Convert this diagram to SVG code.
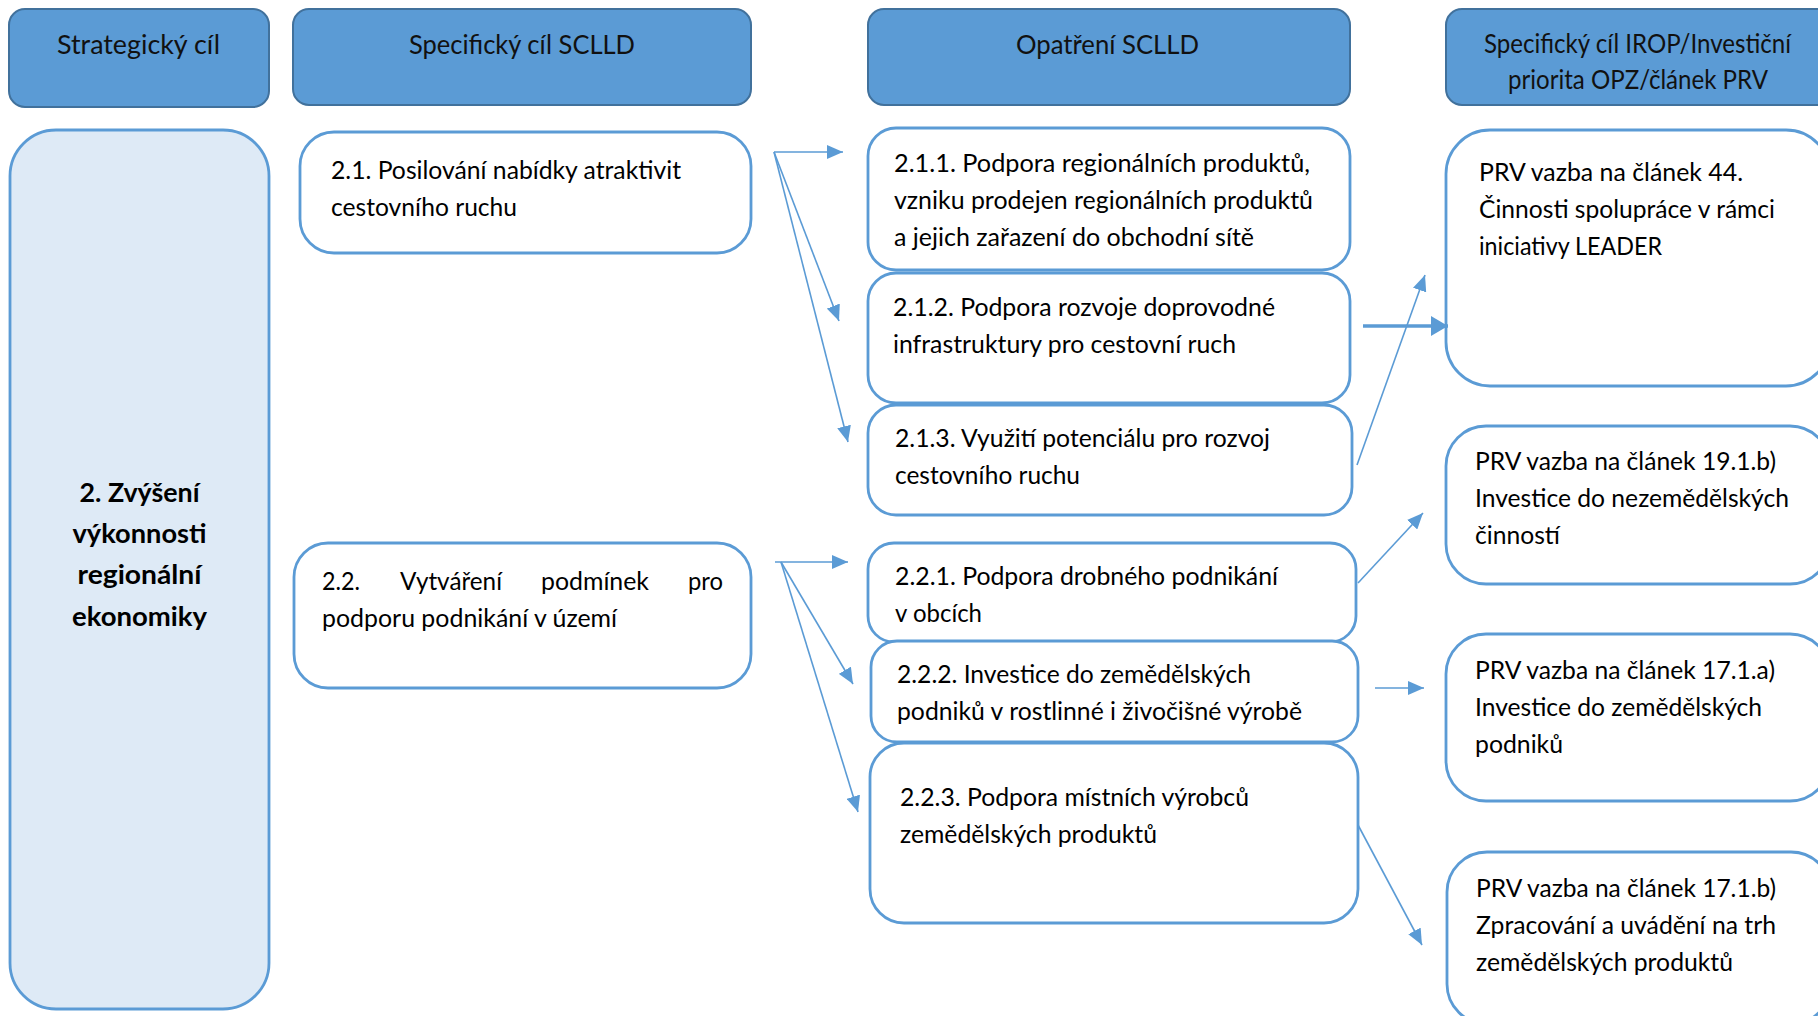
<svg xmlns="http://www.w3.org/2000/svg" width="1818" height="1016" viewBox="0 0 1818 1016">
<defs>
<style>
.hdr{fill:#5B9BD5;stroke:#41719C;stroke-width:2}
.box{fill:#FFFFFF;stroke:#5B9BD5;stroke-width:2.8}
.sbox{fill:#DEEAF6;stroke:#5B9BD5;stroke-width:2.8}
.ht{font-family:Lato,"Open Sans","Liberation Sans",sans-serif;font-size:26.5px;fill:#111}
.t{font-family:Lato,"Open Sans","Liberation Sans",sans-serif;font-size:24.5px;fill:#000}
.b{font-family:Lato,"Open Sans","Liberation Sans",sans-serif;font-size:26.5px;font-weight:bold;fill:#000}
.ln{fill:none;stroke:#5B9BD5;stroke-width:1.6}
.thick{fill:none;stroke:#5B9BD5;stroke-width:3.6}
</style>
<marker id="ah" markerUnits="userSpaceOnUse" markerWidth="16" markerHeight="14" refX="16" refY="7" orient="auto">
<path d="M0,0 L16,7 L0,14 z" fill="#5B9BD5"/>
</marker>
<marker id="ahT" markerUnits="userSpaceOnUse" markerWidth="17" markerHeight="20" refX="17" refY="10" orient="auto">
<path d="M0,0 L17,10 L0,20 z" fill="#5B9BD5"/>
</marker>
</defs>

<g id="hdr-strategicky">
<rect class="hdr" x="9" y="9" width="260" height="98" rx="16"/>
<text class="ht" x="57" y="54" textLength="163" lengthAdjust="spacingAndGlyphs">Strategický cíl</text>
</g>
<g id="hdr-specificky">
<rect class="hdr" x="293" y="9" width="458" height="96" rx="16"/>
<text class="ht" x="409" y="54" textLength="226" lengthAdjust="spacingAndGlyphs">Specifický cíl SCLLD</text>
</g>
<g id="hdr-opatreni">
<rect class="hdr" x="868" y="9" width="482" height="96" rx="16"/>
<text class="ht" x="1016" y="54" textLength="183" lengthAdjust="spacingAndGlyphs">Opatření SCLLD</text>
</g>
<g id="hdr-irop">
<rect class="hdr" x="1446" y="9" width="386" height="96" rx="16"/>
<text class="ht" x="1484" y="53" textLength="307" lengthAdjust="spacingAndGlyphs">Specifický cíl IROP/Investiční</text>
<text class="ht" x="1508" y="89" textLength="260" lengthAdjust="spacingAndGlyphs">priorita OPZ/článek PRV</text>
</g>

<g id="node-2">
<rect class="sbox" x="10" y="130" width="259" height="879" rx="46"/>
<text class="b" x="139.5" y="502" text-anchor="middle" textLength="120" lengthAdjust="spacingAndGlyphs">2. Zvýšení</text>
<text class="b" x="139.5" y="543" text-anchor="middle" textLength="134" lengthAdjust="spacingAndGlyphs">výkonnosti</text>
<text class="b" x="139.5" y="584" text-anchor="middle" textLength="124" lengthAdjust="spacingAndGlyphs">regionální</text>
<text class="b" x="139.5" y="626" text-anchor="middle" textLength="135" lengthAdjust="spacingAndGlyphs">ekonomiky</text>
</g>

<g id="node-2-1">
<rect class="box" x="300" y="132" width="451" height="121" rx="34"/>
<text class="t" x="331" y="179" textLength="350" lengthAdjust="spacingAndGlyphs">2.1. Posilování nabídky atraktivit</text>
<text class="t" x="331" y="216" textLength="186" lengthAdjust="spacingAndGlyphs">cestovního ruchu</text>
</g>
<g id="node-2-2">
<rect class="box" x="294" y="543" width="457" height="145" rx="34"/>
<text class="t" x="322" y="590" textLength="38" lengthAdjust="spacingAndGlyphs">2.2.</text>
<text class="t" x="400" y="590" textLength="102" lengthAdjust="spacingAndGlyphs">Vytváření</text>
<text class="t" x="541" y="590" textLength="108" lengthAdjust="spacingAndGlyphs">podmínek</text>
<text class="t" x="688" y="590" textLength="35" lengthAdjust="spacingAndGlyphs">pro</text>
<text class="t" x="322" y="627" textLength="295" lengthAdjust="spacingAndGlyphs">podporu podnikání v území</text>
</g>

<g id="node-2-1-1">
<rect class="box" x="868" y="128" width="482" height="142" rx="28"/>
<text class="t" x="894" y="172" textLength="416" lengthAdjust="spacingAndGlyphs">2.1.1. Podpora regionálních produktů,</text>
<text class="t" x="894" y="209" textLength="419" lengthAdjust="spacingAndGlyphs">vzniku prodejen regionálních produktů</text>
<text class="t" x="894" y="246" textLength="360" lengthAdjust="spacingAndGlyphs">a jejich zařazení do obchodní sítě</text>
</g>
<g id="node-2-1-2">
<rect class="box" x="868" y="273" width="482" height="130" rx="28"/>
<text class="t" x="893" y="316" textLength="382" lengthAdjust="spacingAndGlyphs">2.1.2. Podpora rozvoje doprovodné</text>
<text class="t" x="893" y="353" textLength="343" lengthAdjust="spacingAndGlyphs">infrastruktury pro cestovní ruch</text>
</g>
<g id="node-2-1-3">
<rect class="box" x="868" y="405" width="484" height="110" rx="28"/>
<text class="t" x="895" y="447" textLength="375" lengthAdjust="spacingAndGlyphs">2.1.3. Využití potenciálu pro rozvoj</text>
<text class="t" x="895" y="484" textLength="185" lengthAdjust="spacingAndGlyphs">cestovního ruchu</text>
</g>
<g id="node-2-2-1">
<rect class="box" x="868" y="543" width="488" height="99" rx="26"/>
<text class="t" x="895" y="585" textLength="383" lengthAdjust="spacingAndGlyphs">2.2.1. Podpora drobného podnikání</text>
<text class="t" x="895" y="622" textLength="87" lengthAdjust="spacingAndGlyphs">v obcích</text>
</g>
<g id="node-2-2-2">
<rect class="box" x="871" y="641" width="487" height="101" rx="26"/>
<text class="t" x="897" y="683" textLength="354" lengthAdjust="spacingAndGlyphs">2.2.2. Investice do zemědělských</text>
<text class="t" x="897" y="720" textLength="405" lengthAdjust="spacingAndGlyphs">podniků v rostlinné i živočišné výrobě</text>
</g>
<g id="node-2-2-3">
<rect class="box" x="870" y="743" width="488" height="180" rx="34"/>
<text class="t" x="900" y="806" textLength="349" lengthAdjust="spacingAndGlyphs">2.2.3. Podpora místních výrobců</text>
<text class="t" x="900" y="843" textLength="257" lengthAdjust="spacingAndGlyphs">zemědělských produktů</text>
</g>

<g id="node-prv44">
<rect class="box" x="1446" y="130" width="384" height="256" rx="44"/>
<text class="t" x="1479" y="181" textLength="264" lengthAdjust="spacingAndGlyphs">PRV vazba na článek 44.</text>
<text class="t" x="1479" y="218" textLength="296" lengthAdjust="spacingAndGlyphs">Činnosti spolupráce v rámci</text>
<text class="t" x="1479" y="255" textLength="183" lengthAdjust="spacingAndGlyphs">iniciativy LEADER</text>
</g>
<g id="node-prv19">
<rect class="box" x="1446" y="426" width="384" height="158" rx="40"/>
<text class="t" x="1475" y="470" textLength="301" lengthAdjust="spacingAndGlyphs">PRV vazba na článek 19.1.b)</text>
<text class="t" x="1475" y="507" textLength="314" lengthAdjust="spacingAndGlyphs">Investice do nezemědělských</text>
<text class="t" x="1475" y="544" textLength="85" lengthAdjust="spacingAndGlyphs">činností</text>
</g>
<g id="node-prv17a">
<rect class="box" x="1446" y="634" width="384" height="167" rx="40"/>
<text class="t" x="1475" y="679" textLength="300" lengthAdjust="spacingAndGlyphs">PRV vazba na článek 17.1.a)</text>
<text class="t" x="1475" y="716" textLength="287" lengthAdjust="spacingAndGlyphs">Investice do zemědělských</text>
<text class="t" x="1475" y="753" textLength="88" lengthAdjust="spacingAndGlyphs">podniků</text>
</g>
<g id="node-prv17b">
<rect class="box" x="1447" y="852" width="384" height="172" rx="40"/>
<text class="t" x="1476" y="897" textLength="300" lengthAdjust="spacingAndGlyphs">PRV vazba na článek 17.1.b)</text>
<text class="t" x="1476" y="934" textLength="300" lengthAdjust="spacingAndGlyphs">Zpracování a uvádění na trh</text>
<text class="t" x="1476" y="971" textLength="257" lengthAdjust="spacingAndGlyphs">zemědělských produktů</text>
</g>

<g id="connectors">
<line class="ln" x1="774" y1="152" x2="843" y2="152" marker-end="url(#ah)"/>
<line class="ln" x1="774" y1="152" x2="839" y2="321" marker-end="url(#ah)"/>
<line class="ln" x1="774" y1="152" x2="848" y2="442" marker-end="url(#ah)"/>
<line class="ln" x1="775" y1="562" x2="848" y2="562" marker-end="url(#ah)"/>
<line class="ln" x1="781" y1="562" x2="853" y2="684" marker-end="url(#ah)"/>
<line class="ln" x1="781" y1="562" x2="858" y2="812" marker-end="url(#ah)"/>
<line class="thick" x1="1363" y1="326" x2="1448" y2="326" marker-end="url(#ahT)"/>
<line class="ln" x1="1357" y1="465" x2="1425" y2="275" marker-end="url(#ah)"/>
<line class="ln" x1="1358" y1="583" x2="1423" y2="513" marker-end="url(#ah)"/>
<line class="ln" x1="1375" y1="688" x2="1424" y2="688" marker-end="url(#ah)"/>
<line class="ln" x1="1358" y1="825" x2="1422" y2="945" marker-end="url(#ah)"/>
</g>
</svg>
